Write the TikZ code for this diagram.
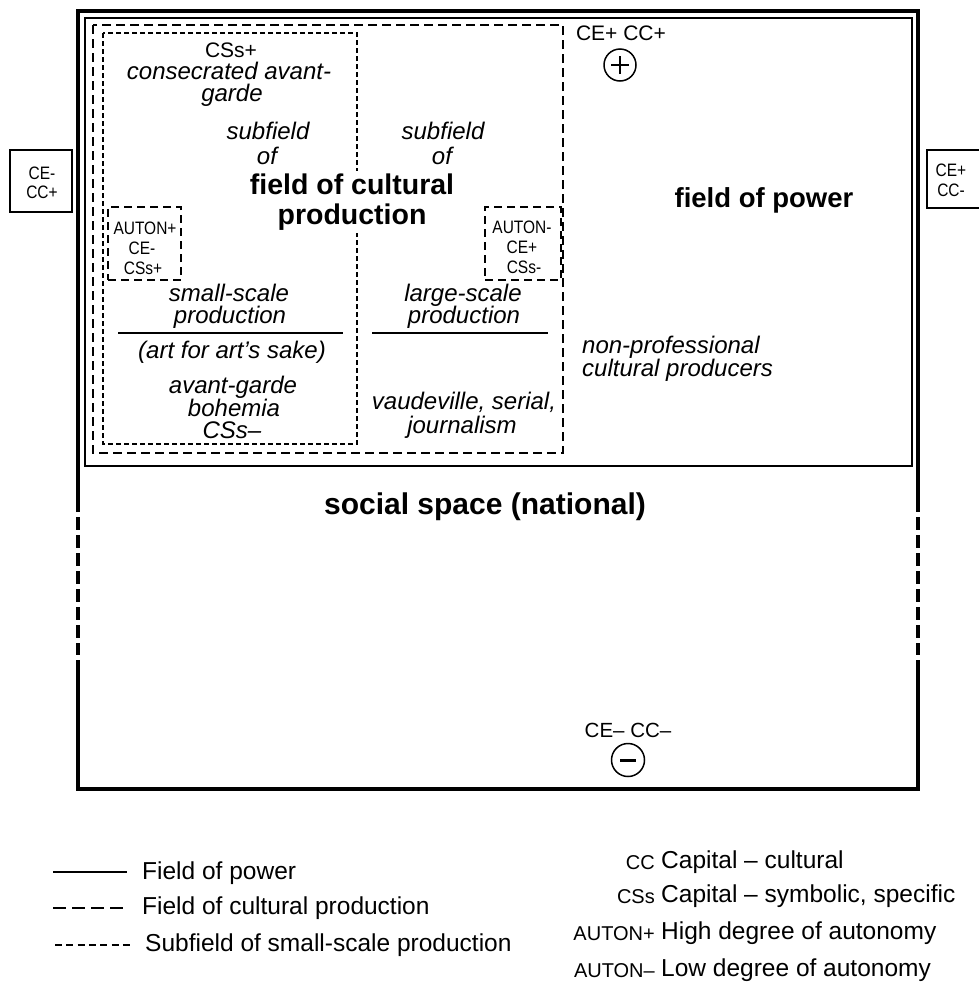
\documentclass[tikz,border=0pt]{standalone}
\usepackage{fontspec}
\usepackage{graphicx}
\setmainfont{Liberation Sans}
\newcommand{\cond}[1]{\scalebox{0.86}[1]{#1}}
\begin{document}
\begin{tikzpicture}[x=1pt,y=-1pt,
  outerline/.style={line width=4.2pt},
  powerline/.style={line width=1.8pt},
  cpline/.style={line width=2.2pt, dash pattern=on 9pt off 5pt},
  ssline/.style={line width=1.4pt, dash pattern=on 5pt off 3pt},
  autonbox/.style={draw, line width=2pt, dash pattern=on 8pt off 5pt, inner sep=0pt, minimum width=73pt, minimum height=73pt},
  cebox/.style={draw, line width=1.6pt, inner sep=0pt, minimum width=62pt, minimum height=62pt},
  itl/.style={font=\fontsize{24}{28}\selectfont\itshape, inner sep=0pt, text height=17pt, text depth=5pt},
  upl/.style={font=\fontsize{21}{24}\selectfont, inner sep=0pt, text height=15pt, text depth=0pt},
  smalll/.style={font=\fontsize{18}{20}\selectfont, inner sep=0pt, text height=13pt, text depth=0pt},
  boldl/.style={font=\fontsize{28}{30}\selectfont\bfseries, inner sep=0pt, text height=20pt, text depth=6pt},
  legl/.style={font=\fontsize{24.5}{28}\selectfont, inner sep=0pt, text height=17.5pt, text depth=5pt, anchor=west},
  abbr/.style={font=\fontsize{20}{24}\selectfont, inner sep=0pt, text height=14.5pt, text depth=0pt, anchor=east},
  divider/.style={line width=1.6pt}
]
\useasboundingbox (0,0) rectangle (979,983);

% social space (outer box)
\draw[outerline] (78,512) -- (78,11) -- (918,11) -- (918,512);
\draw[outerline] (78,660) -- (78,789) -- (918,789) -- (918,660);
\draw[outerline, dash pattern=on 13pt off 5pt] (78,517) -- (78,655);
\draw[outerline, dash pattern=on 13pt off 5pt] (918,517) -- (918,655);

% field of power
\draw[powerline] (85,18) rectangle (912,466);
% field of cultural production
\draw[cpline] (93,25) rectangle (563,453);
% subfield of small-scale production
\draw[ssline] (103,33) rectangle (357,444);

% side boxes
\node[cebox] (ceL) at (41,181) {};
\node[smalll] (ceLa) at (42,173) {\cond{CE-}};
\node[smalll] (ceLb) at (42,192) {\cond{CC+}};
\coordinate (ceRtop) at (979,150);
\coordinate (ceRbot) at (979,208);
\draw[line width=1.6pt] (ceRtop) -| (927,208) -- (ceRbot);
\node[smalll] (ceRa) at (951,170) {\cond{CE+}};
\node[smalll] (ceRb) at (951,190) {\cond{CC-}};

% autonomy boxes
\node[autonbox] (autP) at (144.5,243.5) {};
\node[smalll] (autPa) at (145,228) {\cond{AUTON+}};
\node[smalll] (autPb) at (142,248) {\cond{CE-}};
\node[smalll] (autPc) at (143,268) {\cond{CSs+}};
\node[autonbox, minimum width=76pt] (autM) at (523,243.5) {};
\node[smalll] (autMa) at (522,227) {\cond{AUTON-}};
\node[smalll] (autMb) at (522,247) {\cond{CE+}};
\node[smalll] (autMc) at (524,267) {\cond{CSs-}};

% left column (small-scale)
\node[upl] (cssp) at (231,50) {CSs+};
\node[itl] (cons1) at (229,73) {consecrated avant-};
\node[itl] (cons2) at (232,95) {garde};
\node[itl] (subL1) at (268,133) {subfield};
\node[itl] (subL2) at (267,158) {of};
\node[itl] (subR1) at (443,133) {subfield};
\node[itl] (subR2) at (442,158) {of};
\node[font=\fontsize{28.5}{30}\selectfont\bfseries, align=center, fill=white, inner sep=3pt] (fcp) at (352,202) {field of cultural\\production};

\node[itl] (ss1) at (229,295) {small-scale};
\node[itl] (ss2) at (230,317) {production};
\coordinate (dL1) at (118,333);
\coordinate (dL2) at (343,333);
\draw[divider] (dL1) -- (dL2);
\node[itl] (art) at (232,352) {(art for art's sake)};
\node[itl] (ag1) at (233,387) {avant-garde};
\node[itl] (ag2) at (234,410) {bohemia};
\node[itl] (ag3) at (232,432) {CSs–};

% middle column (large-scale)
\node[itl] (ls1) at (463,295) {large-scale};
\node[itl] (ls2) at (464,317) {production};
\coordinate (dR1) at (372,333);
\coordinate (dR2) at (548,333);
\draw[divider] (dR1) -- (dR2);
\node[itl] (vau1) at (464,403) {vaudeville, serial,};
\node[itl] (vau2) at (462,427) {journalism};

% field of power
\node[itl, anchor=west] (np1) at (582,347) {non-professional};
\node[itl, anchor=west] (np2) at (582,370) {cultural producers};
\node[boldl, font=\fontsize{27.5}{30}\selectfont\bfseries] (fop) at (764,200) {field of power};
\node[upl] (ceplus) at (621,33) {CE+ CC+};
\node[circle, draw, line width=1.5pt, minimum size=32pt, inner sep=0pt] (plus) at (620,65) {};
\draw[line width=1.8pt] ([xshift=-9pt]plus.center) -- ([xshift=9pt]plus.center);
\draw[line width=1.8pt] ([yshift=-9pt]plus.center) -- ([yshift=9pt]plus.center);

% social space
\node[boldl, font=\fontsize{30}{32}\selectfont\bfseries] (soc) at (485,507) {social space (national)};
\node[upl, font=\fontsize{20.5}{24}\selectfont] (ceminus) at (628,730) {CE– CC–};
\node[circle, draw, line width=1.5pt, minimum size=33pt, inner sep=0pt] (minus) at (628,760) {};
\draw[line width=3pt] ([xshift=-8pt]minus.center) -- ([xshift=8pt]minus.center);

% legend left
\coordinate (lg1a) at (53,872); \coordinate (lg1b) at (127,872);
\coordinate (lg2a) at (53,908); \coordinate (lg2b) at (127,908);
\coordinate (lg3a) at (55,945); \coordinate (lg3b) at (130,945);
\draw[line width=1.6pt] (lg1a) -- (lg1b);
\draw[line width=2.2pt, dash pattern=on 13pt off 6pt] (lg2a) -- (lg2b);
\draw[line width=1.4pt, dash pattern=on 7pt off 4.3pt] (lg3a) -- (lg3b);
\node[legl] (lt1) at (142,873) {Field of power};
\node[legl] (lt2) at (142,908) {Field of cultural production};
\node[legl] (lt3) at (145,945) {Subfield of small-scale production};

% legend right
\node[abbr] (ab1) at (655,862) {CC};
\node[legl] (ad1) at (661,862) {Capital – cultural};
\node[abbr] (ab2) at (655,896) {CSs};
\node[legl] (ad2) at (661,896) {Capital – symbolic, specific};
\node[abbr] (ab3) at (655,933) {AUTON+};
\node[legl] (ad3) at (661,933) {High degree of autonomy};
\node[abbr] (ab4) at (655,970) {AUTON–};
\node[legl] (ad4) at (661,970) {Low degree of autonomy};
\end{tikzpicture}
\end{document}
